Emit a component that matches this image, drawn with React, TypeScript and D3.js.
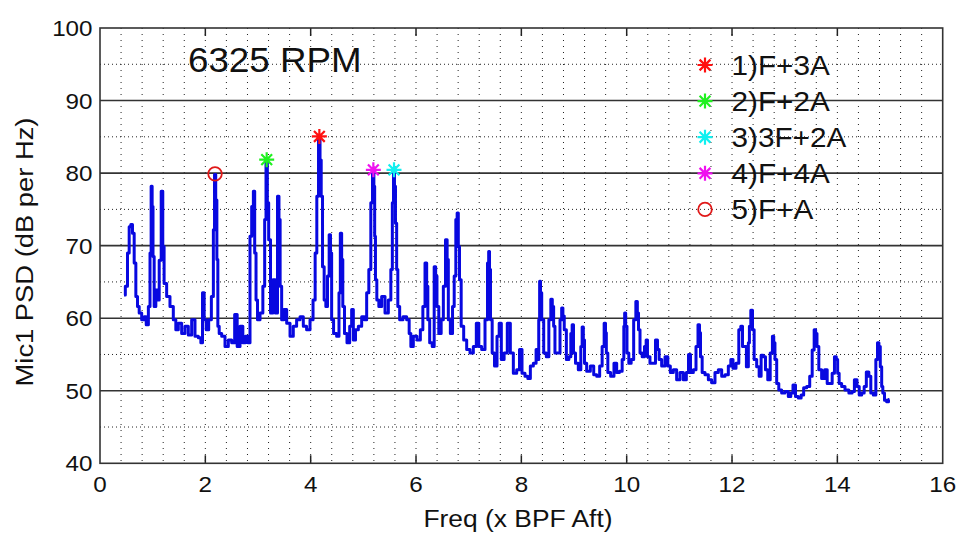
import React from 'react';
import * as d3 from 'd3';

// Spectrum trace: [frequency (x BPF Aft), PSD (dB per Hz)]
const psdTrace: [number, number][] = [
  [0.456,63.2],[0.506,64.4],[0.538,69.0],[0.57,72.6],[0.60,72.9],[0.633,71.7],[0.665,67.6],[0.696,63.0],[0.728,61.6],[0.76,60.7],
  [0.823,59.8],[0.855,60.2],[0.9,59.1],[0.937,61.6],[0.962,69.0],[0.98,78.2],[1.0,75.4],[1.013,68.5],[1.044,61.6],[1.076,63.9],
  [1.108,62.5],[1.14,68.0],[1.184,77.5],[1.2,69.9],[1.234,64.8],[1.297,63.0],[1.36,61.6],[1.424,59.8],[1.455,58.4],[1.519,59.3],
  [1.582,57.9],[1.645,58.9],[1.709,57.7],[1.772,59.8],[1.835,57.5],[1.9,57.3],[1.93,56.6],[1.962,63.5],[1.994,59.8],[2.038,58.4],
  [2.089,59.8],[2.14,63.0],[2.165,72.2],[2.184,79.8],[2.21,76.3],[2.228,68.1],[2.247,58.9],[2.279,57.9],[2.342,57.5],[2.405,56.1],
  [2.468,57.0],[2.532,56.6],[2.582,60.5],[2.627,56.1],[2.69,58.9],[2.734,56.6],[2.785,57.5],[2.836,56.6],[2.86,71.3],[2.9,75.4],
  [2.924,77.5],[2.95,69.0],[2.975,62.5],[3.006,59.8],[3.07,60.7],[3.114,64.4],[3.139,73.6],[3.165,81.8],[3.19,75.9],[3.215,70.8],
  [3.26,60.7],[3.304,65.3],[3.354,60.7],[3.386,76.8],[3.41,73.6],[3.43,64.4],[3.468,59.8],[3.513,61.2],[3.576,59.3],[3.64,57.5],
  [3.7,58.9],[3.766,59.8],[3.83,60.2],[3.89,58.9],[3.955,58.4],[4.02,59.8],[4.07,62.5],[4.1,69.0],[4.133,76.8],[4.165,85.1],
  [4.19,81.8],[4.21,76.8],[4.24,67.1],[4.272,62.5],
  [4.304,61.6],[4.335,65.8],[4.367,71.5],[4.386,69.0],[4.41,59.8],[4.46,57.9],[4.525,57.5],[4.55,63.5],[4.576,71.7],[4.6,68.1],
  [4.62,61.6],[4.664,57.9],[4.715,56.6],[4.766,58.9],[4.79,61.2],[4.83,57.0],[4.873,58.4],[4.937,58.9],[5.0,60.2],[5.044,59.8],
  [5.082,63.5],[5.126,66.7],[5.158,75.9],[5.19,80.5],[5.21,78.2],[5.22,71.3],[5.24,65.3],[5.272,62.5],[5.316,61.6],[5.38,63.0],
  [5.443,60.7],[5.506,62.5],[5.538,66.7],[5.563,75.9],[5.582,80.5],[5.6,78.2],[5.62,73.1],[5.645,66.7],[5.664,61.6],[5.715,59.8],
  [5.79,60.2],[5.854,59.8],[5.886,57.9],[5.918,56.1],[5.98,57.5],[6.057,57.0],[6.108,58.4],[6.152,61.6],[6.19,67.6],[6.215,64.4],
  [6.234,59.8],[6.285,56.6],[6.33,56.1],[6.36,67.1],[6.386,65.8],[6.41,61.6],[6.455,57.9],[6.5,59.8],[6.538,64.4],[6.582,70.8],
  [6.6,68.1],[6.627,59.8],[6.677,57.9],[6.71,61.6],[6.74,65.8],[6.772,73.6],[6.79,74.5],[6.816,69.9],[6.835,65.3],[6.88,58.9],
  [6.93,57.0],[6.994,55.7],[7.057,55.2],[7.12,56.1],[7.17,59.3],[7.215,56.1],[7.278,55.7],[7.342,59.8],[7.373,67.6],[7.386,69.2],
  [7.405,66.7],[7.424,59.8],[7.468,55.2],[7.513,53.4],[7.563,57.5],[7.595,59.3],[7.645,54.3],[7.7,55.2],[7.766,59.3],[7.816,55.2],
  [7.88,52.4],[7.943,52.9],[7.987,55.7],[8.038,52.4],[8.1,52.0],[8.146,51.7],[8.196,53.4],[8.26,53.8],[8.3,55.7],
  [8.32,54.3],[8.34,59.8],[8.354,65.1],[8.373,63.5],[8.4,59.8],[8.449,55.2],[8.5,54.7],[8.544,59.8],[8.575,62.6],[8.6,61.6],
  [8.626,58.9],[8.65,55.2],[8.715,55.2],[8.753,59.8],[8.778,61.4],[8.8,60.3],[8.829,58.4],[8.88,54.3],[8.924,54.7],[8.955,57.9],
  [8.974,59.1],[9.006,55.2],[9.05,53.8],[9.113,52.9],[9.145,56.1],[9.164,58.8],[9.19,57.0],[9.208,53.8],[9.272,52.7],[9.348,53.4],
  [9.4,52.2],[9.462,52.0],[9.512,53.4],[9.556,56.1],[9.588,59.3],[9.607,58.0],[9.62,55.2],[9.664,52.5],[9.727,52.0],[9.79,53.8],
  [9.83,52.5],[9.892,52.7],[9.936,54.3],[9.955,58.9],[9.968,60.7],[9.993,58.9],[10.018,55.2],[10.063,53.8],[10.107,54.3],[10.158,59.8],
  [10.19,62.3],[10.215,60.7],[10.234,58.4],[10.272,55.2],[10.316,54.7],[10.36,56.1],[10.379,57.0],[10.41,54.7],[10.474,53.8],[10.525,53.8],
  [10.569,57.0],[10.6,55.7],[10.632,54.3],[10.696,53.4],[10.759,54.7],[10.803,53.4],[10.854,52.5],[10.917,52.9],[10.98,51.5],[11.044,52.5],
  [11.107,51.5],[11.158,52.5],[11.19,55.0],[11.234,52.5],[11.297,52.9],[11.335,56.1],[11.373,59.1],[11.392,58.0],[11.411,54.7],[11.455,52.5],
  [11.519,52.2],[11.582,51.5],[11.645,51.1],[11.708,52.5],[11.772,52.9],[11.835,52.0],[11.898,52.2],[11.962,53.4],[11.993,54.3],[12.044,53.1],
  [12.107,53.8],[12.15,58.4],[12.183,58.9],[12.215,56.1],
  [12.246,56.1],[12.3,53.3],[12.32,56.6],[12.34,58.9],[12.373,61.1],[12.404,58.4],[12.436,54.3],[12.5,53.3],[12.53,52.0],[12.575,54.9],
  [12.613,54.7],[12.657,52.9],[12.7,51.5],[12.75,55.2],[12.784,57.5],[12.8,56.6],[12.83,54.3],[12.866,51.0],[12.91,50.1],[12.974,49.7],
  [13.037,49.9],[13.1,49.2],[13.132,49.7],[13.183,50.8],[13.227,49.2],[13.29,49.0],[13.335,49.4],[13.385,50.4],[13.45,50.6],[13.5,52.0],
  [13.544,55.6],[13.575,58.4],[13.6,57.9],[13.626,56.1],[13.67,52.9],[13.733,51.7],[13.784,52.9],[13.83,51.0],[13.88,51.0],[13.923,52.4],
  [13.967,54.7],[13.993,54.3],[14.018,52.4],[14.05,51.0],[14.113,50.6],[14.177,50.1],[14.26,49.7],[14.3,49.9],[14.347,51.5],[14.4,50.6],
  [14.43,49.4],[14.493,49.7],[14.525,50.6],[14.575,52.6],[14.62,52.0],[14.65,49.7],[14.715,49.4],[14.746,54.3],[14.778,56.6],[14.8,56.1],
  [14.83,53.3],[14.853,50.6],[14.873,49.7],[14.917,48.7],[14.955,48.5],[14.987,48.8],
];

const xTicks = [0, 2, 4, 6, 8, 10, 12, 14, 16];
const yTicks = [40, 50, 60, 70, 80, 90, 100];
const xMinorStep = 0.4;

const markerLabels = ['1)F+3A', '2)F+2A', '3)3F+2A', '4)F+4A', '5)F+A'];
const markerFreq = [4.165, 3.165, 5.582, 5.19, 2.184];
const markerLevel = [85.05, 81.85, 80.45, 80.45, 79.9];
const markerKind = ['star', 'star', 'star', 'star', 'circle'];

const titleText = '6325 RPM';
const xLabel = 'Freq (x BPF Aft)';
const yLabel = 'Mic1 PSD (dB per Hz)';

// styles
const markerColors = ['#ff1010', '#20f020', '#10f0f0', '#f010f0', '#e01818'];
const FONT = '"Liberation Sans", Arial, Helvetica, sans-serif';
const W = 978, H = 535;
const L = 100, R = 942.7, T = 28, B = 463.3;

function Star({ x, y, r, color }: { x: number; y: number; r: number; color: string }) {
  const d = r * 0.72;
  const p = `M${-r},0H${r}M0,${-r}V${r}M${-d},${-d}L${d},${d}M${-d},${d}L${d},${-d}`;
  return <path d={p} transform={`translate(${x},${y})`} stroke={color} strokeWidth={2.2} fill="none" />;
}

function Marker({ kind, x, y, color }: { kind: string; x: number; y: number; color: string }) {
  if (kind === 'circle') return <circle cx={x} cy={y} r={6.8} fill="none" stroke={color} strokeWidth={1.8} />;
  return <Star x={x} y={y} r={7.5} color={color} />;
}

export default function App() {
  const x = d3.scaleLinear().domain([0, 16]).range([L, R]);
  const y = d3.scaleLinear().domain([40, 100]).range([B, T]);
  const line = d3.line<[number, number]>().x(d => x(d[0])).y(d => y(d[1])).curve(d3.curveStep);

  const xMinor = d3.range(xMinorStep, 16 - 1e-6, xMinorStep);
  const yMinor = d3.range(45, 100, 10);
  const yMajorInner = yTicks.filter(v => v > 40 && v < 100);

  const sx = 1.1;

  return (
    <svg width={W} height={H} style={{ position: 'absolute', left: 0, top: 0, background: '#fff' }} fontFamily={FONT}>
      <rect x={0} y={0} width={W} height={H} fill="#fff" />
      {xMinor.map((v, i) => (
        <line key={'vx' + i} x1={x(v)} x2={x(v)} y1={T} y2={B} stroke="#222" strokeWidth={1} strokeDasharray="1,5" />
      ))}
      {yMinor.map((v, i) => (
        <line key={'hy' + i} x1={L} x2={R} y1={y(v)} y2={y(v)} stroke="#222" strokeWidth={1} strokeDasharray="1,3" />
      ))}
      {yMajorInner.map((v, i) => (
        <line key={'hs' + i} x1={L} x2={R} y1={y(v)} y2={y(v)} stroke="#333" strokeWidth={1.6} />
      ))}
      {xTicks.slice(1, -1).map((v, i) => (
        <g key={'xt' + i}>
          <line x1={x(v)} x2={x(v)} y1={B} y2={B - 8} stroke="#222" strokeWidth={1.5} />
          <line x1={x(v)} x2={x(v)} y1={T} y2={T + 8} stroke="#222" strokeWidth={1.5} />
        </g>
      ))}
      <rect x={L} y={T} width={R - L} height={B - T} fill="none" stroke="#333" strokeWidth={1.6} />

      <path d={line(psdTrace) || ''} fill="none" stroke="#0808e0" strokeWidth={3} strokeLinejoin="round" />

      {markerLabels.map((lab, i) => (
        <Marker key={'m' + i} kind={markerKind[i]} x={x(markerFreq[i])} y={y(markerLevel[i])} color={markerColors[i]} />
      ))}

      {xTicks.map((v, i) => (
        <text key={'xl' + i} transform={`translate(${x(v)},${491.5}) scale(${sx},1)`} textAnchor="middle" fontSize={22} fill="#111">{v}</text>
      ))}
      {yTicks.map((v, i) => (
        <text key={'yl' + i} transform={`translate(${92.5},${y(v) + 8}) scale(${sx},1)`} textAnchor="end" fontSize={22} fill="#111">{v}</text>
      ))}

      <text transform={`translate(${518},${526.5}) scale(1.1,1)`} textAnchor="middle" fontSize={24} fill="#111">{xLabel}</text>
      <text transform={`translate(${33},${252}) rotate(-90) scale(1.14,1)`} textAnchor="middle" fontSize={24} fill="#111">{yLabel}</text>

      <text transform={`translate(${188},${72}) scale(1.05,1)`} fontSize={35} fill="#111">{titleText}</text>

      {markerLabels.map((lab, i) => {
        const cy = 65 + i * 36.1;
        return (
          <g key={'lg' + i}>
            <Marker kind={markerKind[i]} x={705} y={cy} color={markerColors[i]} />
            <text transform={`translate(${731.5},${cy + 10}) scale(1.1,1)`} fontSize={27} fill="#111">{lab}</text>
          </g>
        );
      })}
    </svg>
  );
}
